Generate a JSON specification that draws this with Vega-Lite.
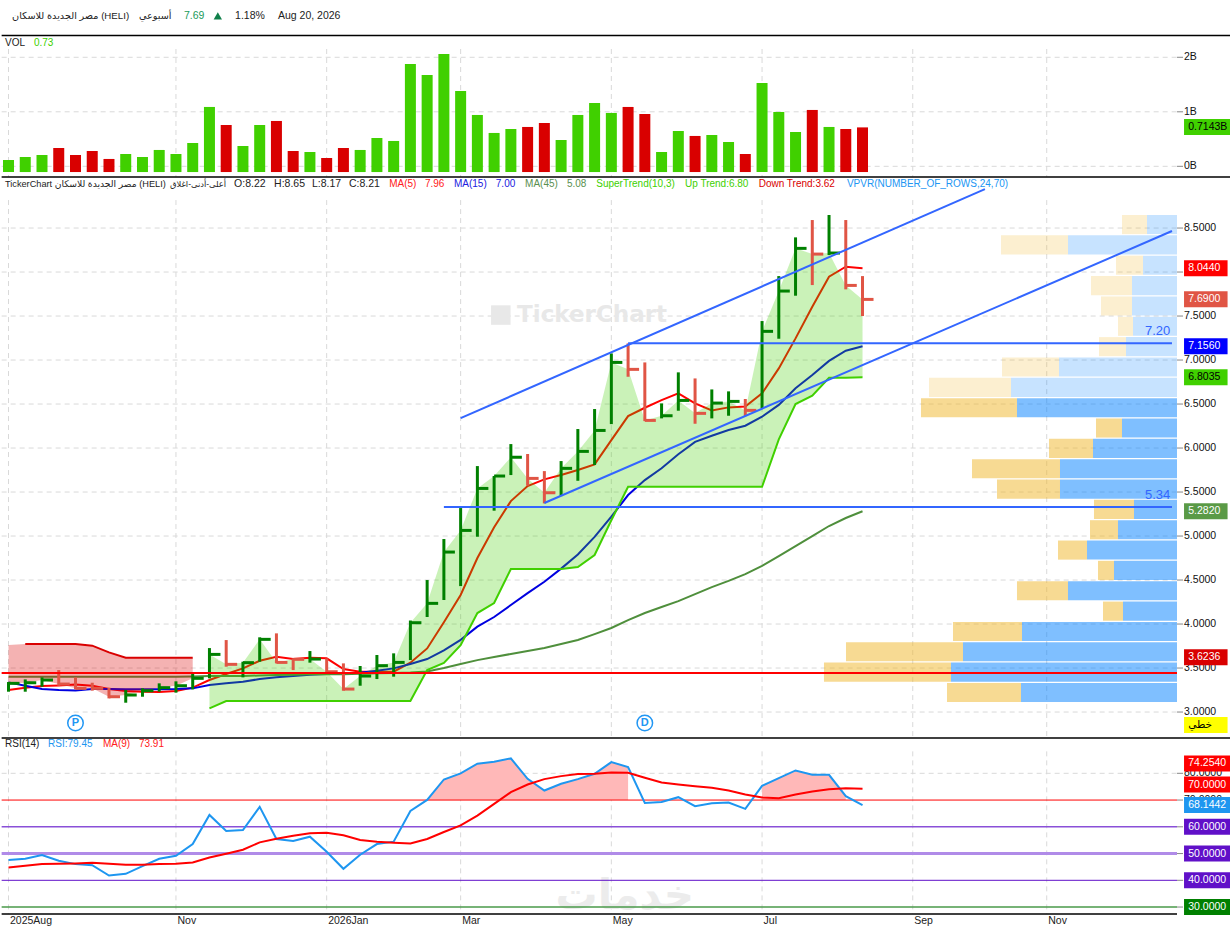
{
  "$schema": "https://vega.github.io/schema/vega-lite/v6.json",
  "padding": 0,
  "background": "white",
  "spacing": 0,
  "bounds": "flush",
  "resolve": {"scale": {"color": "independent"}},
  "config": {
    "view": {"stroke": null},
    "font": "Liberation Sans, DejaVu Sans",
    "axis": {"labelColor": "#111111"}
  },
  "datasets": {
    "weeks": [
      {"i":0,"h":3.341,"l":3.231,"c":3.326,"vol":0.116,"dir":"up","ma5":3.25,"ma15":3.337,"ma45":3.40,"dn":3.761,"up":null,"rsi":47.55,"rsima":44.8},
      {"i":1,"h":3.371,"l":3.231,"c":3.333,"vol":0.171,"dir":"up","ma5":3.277,"ma15":3.299,"ma45":3.40,"dn":3.773,"up":null,"rsi":48.05,"rsima":45.42},
      {"i":2,"h":3.394,"l":3.288,"c":3.364,"vol":0.208,"dir":"up","ma5":3.295,"ma15":3.261,"ma45":3.40,"dn":3.773,"up":null,"rsi":49.43,"rsima":46.05},
      {"i":3,"h":3.477,"l":3.299,"c":3.318,"vol":0.336,"dir":"down","ma5":3.303,"ma15":3.25,"ma45":3.40,"dn":3.773,"up":null,"rsi":47.3,"rsima":46.17},
      {"i":4,"h":3.394,"l":3.258,"c":3.269,"vol":0.208,"dir":"down","ma5":3.314,"ma15":3.246,"ma45":3.40,"dn":3.773,"up":null,"rsi":46.05,"rsima":46.3},
      {"i":5,"h":3.333,"l":3.243,"c":3.269,"vol":0.281,"dir":"down","ma5":3.299,"ma15":3.261,"ma45":3.40,"dn":3.754,"up":null,"rsi":45.67,"rsima":46.55},
      {"i":6,"h":3.277,"l":3.155,"c":3.174,"vol":0.135,"dir":"down","ma5":3.261,"ma15":3.261,"ma45":3.40,"dn":3.678,"up":null,"rsi":41.8,"rsima":46.17},
      {"i":7,"h":3.25,"l":3.106,"c":3.193,"vol":0.226,"dir":"up","ma5":3.239,"ma15":3.258,"ma45":3.40,"dn":3.617,"up":null,"rsi":42.42,"rsima":45.8},
      {"i":8,"h":3.269,"l":3.174,"c":3.242,"vol":0.171,"dir":"up","ma5":3.231,"ma15":3.258,"ma45":3.40,"dn":3.617,"up":null,"rsi":45.3,"rsima":45.8},
      {"i":9,"h":3.326,"l":3.231,"c":3.277,"vol":0.3,"dir":"up","ma5":3.227,"ma15":3.258,"ma45":3.40,"dn":3.617,"up":null,"rsi":48.05,"rsima":46.05},
      {"i":10,"h":3.349,"l":3.22,"c":3.299,"vol":0.226,"dir":"up","ma5":3.239,"ma15":3.261,"ma45":3.40,"dn":3.617,"up":null,"rsi":49.18,"rsima":46.17},
      {"i":11,"h":3.451,"l":3.258,"c":3.383,"vol":0.428,"dir":"up","ma5":3.277,"ma15":3.269,"ma45":3.405,"dn":3.617,"up":null,"rsi":53.55,"rsima":46.67},
      {"i":12,"h":3.727,"l":3.383,"c":3.655,"vol":1.089,"dir":"up","ma5":3.364,"ma15":3.307,"ma45":3.41,"dn":null,"up":3.042,"rsi":64.44,"rsima":48.55},
      {"i":13,"h":3.818,"l":3.515,"c":3.542,"vol":0.758,"dir":"down","ma5":3.432,"ma15":3.326,"ma45":3.41,"dn":null,"up":3.125,"rsi":58.43,"rsima":49.93},
      {"i":14,"h":3.572,"l":3.394,"c":3.561,"vol":0.373,"dir":"up","ma5":3.496,"ma15":3.345,"ma45":3.41,"dn":null,"up":3.125,"rsi":58.81,"rsima":51.43},
      {"i":15,"h":3.849,"l":3.572,"c":3.826,"vol":0.758,"dir":"up","ma5":3.583,"ma15":3.375,"ma45":3.415,"dn":null,"up":3.125,"rsi":67.44,"rsima":54.18},
      {"i":16,"h":3.894,"l":3.553,"c":3.564,"vol":0.832,"dir":"down","ma5":3.629,"ma15":3.394,"ma45":3.42,"dn":null,"up":3.125,"rsi":55.43,"rsima":55.56},
      {"i":17,"h":3.61,"l":3.477,"c":3.599,"vol":0.281,"dir":"down","ma5":3.602,"ma15":3.409,"ma45":3.425,"dn":null,"up":3.125,"rsi":54.68,"rsima":56.68},
      {"i":18,"h":3.693,"l":3.561,"c":3.602,"vol":0.263,"dir":"up","ma5":3.617,"ma15":3.424,"ma45":3.43,"dn":null,"up":3.125,"rsi":56.31,"rsima":57.56},
      {"i":19,"h":3.61,"l":3.451,"c":3.458,"vol":0.153,"dir":"down","ma5":3.61,"ma15":3.432,"ma45":3.43,"dn":null,"up":3.125,"rsi":50.68,"rsima":57.81},
      {"i":20,"h":3.553,"l":3.242,"c":3.261,"vol":0.336,"dir":"down","ma5":3.489,"ma15":3.439,"ma45":3.43,"dn":null,"up":3.125,"rsi":44.3,"rsima":56.81},
      {"i":21,"h":3.523,"l":3.299,"c":3.409,"vol":0.3,"dir":"up","ma5":3.458,"ma15":3.447,"ma45":3.435,"dn":null,"up":3.125,"rsi":49.55,"rsima":55.06},
      {"i":22,"h":3.648,"l":3.375,"c":3.527,"vol":0.52,"dir":"up","ma5":3.458,"ma15":3.47,"ma45":3.44,"dn":null,"up":3.125,"rsi":53.55,"rsima":54.43},
      {"i":23,"h":3.667,"l":3.402,"c":3.564,"vol":0.465,"dir":"up","ma5":3.458,"ma15":3.496,"ma45":3.445,"dn":null,"up":3.125,"rsi":54.43,"rsima":54.05},
      {"i":24,"h":4.04,"l":3.591,"c":4.015,"vol":1.878,"dir":"up","ma5":3.561,"ma15":3.545,"ma45":3.45,"dn":null,"up":3.125,"rsi":65.94,"rsima":53.8},
      {"i":25,"h":4.5,"l":4.08,"c":4.235,"vol":1.676,"dir":"up","ma5":3.723,"ma15":3.602,"ma45":3.46,"dn":null,"up":3.477,"rsi":70.06,"rsima":55.43},
      {"i":26,"h":4.966,"l":4.273,"c":4.818,"vol":2.061,"dir":"up","ma5":4.02,"ma15":3.7,"ma45":3.5,"dn":null,"up":3.557,"rsi":77.69,"rsima":58.06},
      {"i":27,"h":5.318,"l":4.431,"c":5.064,"vol":1.382,"dir":"up","ma5":4.33,"ma15":3.82,"ma45":3.545,"dn":null,"up":3.76,"rsi":79.95,"rsima":60.56},
      {"i":28,"h":5.795,"l":4.992,"c":5.541,"vol":0.942,"dir":"up","ma5":4.75,"ma15":3.97,"ma45":3.59,"dn":null,"up":4.125,"rsi":83.57,"rsima":64.19},
      {"i":29,"h":5.682,"l":5.288,"c":5.682,"vol":0.612,"dir":"up","ma5":5.1,"ma15":4.08,"ma45":3.625,"dn":null,"up":4.239,"rsi":84.32,"rsima":68.56},
      {"i":30,"h":6.045,"l":5.693,"c":5.894,"vol":0.685,"dir":"up","ma5":5.397,"ma15":4.216,"ma45":3.66,"dn":null,"up":4.625,"rsi":85.57,"rsima":72.94},
      {"i":31,"h":5.932,"l":5.572,"c":5.655,"vol":0.722,"dir":"down","ma5":5.568,"ma15":4.352,"ma45":3.693,"dn":null,"up":4.625,"rsi":77.94,"rsima":75.82},
      {"i":32,"h":5.738,"l":5.371,"c":5.492,"vol":0.795,"dir":"down","ma5":5.644,"ma15":4.48,"ma45":3.727,"dn":null,"up":4.625,"rsi":73.57,"rsima":77.82},
      {"i":33,"h":5.852,"l":5.454,"c":5.769,"vol":0.483,"dir":"up","ma5":5.693,"ma15":4.63,"ma45":3.773,"dn":null,"up":4.625,"rsi":76.07,"rsima":78.95},
      {"i":34,"h":6.216,"l":5.628,"c":5.962,"vol":0.942,"dir":"up","ma5":5.75,"ma15":4.79,"ma45":3.818,"dn":null,"up":4.647,"rsi":77.82,"rsima":79.7},
      {"i":35,"h":6.443,"l":5.807,"c":6.2,"vol":1.162,"dir":"up","ma5":5.814,"ma15":4.99,"ma45":3.886,"dn":null,"up":4.784,"rsi":79.82,"rsima":79.82},
      {"i":36,"h":7.075,"l":6.272,"c":6.973,"vol":0.979,"dir":"up","ma5":6.09,"ma15":5.22,"ma45":3.955,"dn":null,"up":5.18,"rsi":84.2,"rsima":80.32},
      {"i":37,"h":7.189,"l":6.81,"c":6.894,"vol":1.089,"dir":"down","ma5":6.363,"ma15":5.466,"ma45":4.045,"dn":null,"up":5.56,"rsi":82.32,"rsima":80.2},
      {"i":38,"h":6.973,"l":6.306,"c":6.314,"vol":0.96,"dir":"down","ma5":6.458,"ma15":5.636,"ma45":4.125,"dn":null,"up":5.56,"rsi":68.94,"rsima":78.32},
      {"i":39,"h":6.507,"l":6.337,"c":6.367,"vol":0.263,"dir":"up","ma5":6.545,"ma15":5.77,"ma45":4.193,"dn":null,"up":5.56,"rsi":69.31,"rsima":76.57},
      {"i":40,"h":6.86,"l":6.424,"c":6.541,"vol":0.648,"dir":"up","ma5":6.621,"ma15":5.93,"ma45":4.261,"dn":null,"up":5.56,"rsi":71.07,"rsima":75.82},
      {"i":41,"h":6.791,"l":6.276,"c":6.394,"vol":0.557,"dir":"down","ma5":6.507,"ma15":6.07,"ma45":4.34,"dn":null,"up":5.56,"rsi":67.69,"rsima":75.19},
      {"i":42,"h":6.666,"l":6.337,"c":6.511,"vol":0.575,"dir":"up","ma5":6.428,"ma15":6.14,"ma45":4.42,"dn":null,"up":5.56,"rsi":68.81,"rsima":74.57},
      {"i":43,"h":6.644,"l":6.367,"c":6.53,"vol":0.446,"dir":"up","ma5":6.462,"ma15":6.205,"ma45":4.49,"dn":null,"up":5.56,"rsi":69.06,"rsima":73.57},
      {"i":44,"h":6.557,"l":6.363,"c":6.428,"vol":0.226,"dir":"down","ma5":6.473,"ma15":6.254,"ma45":4.568,"dn":null,"up":5.56,"rsi":66.69,"rsima":72.07},
      {"i":45,"h":7.443,"l":6.451,"c":7.326,"vol":1.529,"dir":"up","ma5":6.621,"ma15":6.356,"ma45":4.66,"dn":null,"up":5.56,"rsi":75.32,"rsima":70.94},
      {"i":46,"h":7.954,"l":7.242,"c":7.784,"vol":0.997,"dir":"up","ma5":6.905,"ma15":6.49,"ma45":4.773,"dn":null,"up":6.098,"rsi":78.2,"rsima":70.69},
      {"i":47,"h":8.394,"l":7.731,"c":8.269,"vol":0.63,"dir":"up","ma5":7.246,"ma15":6.68,"ma45":4.886,"dn":null,"up":6.5,"rsi":81.07,"rsima":72.07},
      {"i":48,"h":8.591,"l":7.852,"c":8.204,"vol":1.034,"dir":"down","ma5":7.606,"ma15":6.83,"ma45":5.0,"dn":null,"up":6.595,"rsi":79.45,"rsima":73.19},
      {"i":49,"h":8.648,"l":8.193,"c":8.216,"vol":0.722,"dir":"up","ma5":7.947,"ma15":6.99,"ma45":5.114,"dn":null,"up":6.799,"rsi":79.45,"rsima":74.07},
      {"i":50,"h":8.591,"l":7.803,"c":7.848,"vol":0.685,"dir":"down","ma5":8.06,"ma15":7.106,"ma45":5.205,"dn":null,"up":6.8,"rsi":71.44,"rsima":74.44},
      {"i":51,"h":7.954,"l":7.5,"c":7.689,"vol":0.714,"dir":"down","ma5":8.044,"ma15":7.156,"ma45":5.282,"dn":null,"up":6.8035,"rsi":68.14,"rsima":74.25}
    ],
    "months": [
      {"i":0,"name":"2025Aug"},{"i":10,"name":"Nov"},{"i":19,"name":"2026Jan"},{"i":27,"name":"Mar"},
      {"i":36,"name":"May"},{"i":45,"name":"Jul"},{"i":54,"name":"Sep"},{"i":62,"name":"Nov"}
    ],
    "volTicks": [{"v":0,"t":"0B"},{"v":1,"t":"1B"},{"v":2,"t":"2B"}],
    "priceTicks": [
      {"v":3,"t":"3.0000"},{"v":3.5,"t":"3.5000"},{"v":4,"t":"4.0000"},{"v":4.5,"t":"4.5000"},
      {"v":5,"t":"5.0000"},{"v":5.5,"t":"5.5000"},{"v":6,"t":"6.0000"},{"v":6.5,"t":"6.5000"},
      {"v":7,"t":"7.0000"},{"v":7.5,"t":"7.5000"},{"v":8,"t":"8.0000"},{"v":8.5,"t":"8.5000"}
    ],
    "rsiTicks": [
      {"v":30,"t":"30.0000"},{"v":40,"t":"40.0000"},{"v":50,"t":"50.0000"},
      {"v":60,"t":"60.0000"},{"v":70,"t":"70.0000"},{"v":80,"t":"80.0000"}
    ],
    "profile": [
      {"hi":8.648,"lo":8.431,"sell":0.30,"all":0.55,"area":"outer"},
      {"hi":8.417,"lo":8.2,"sell":1.09,"all":1.76,"area":"outer"},
      {"hi":8.186,"lo":7.969,"sell":0.34,"all":0.61,"area":"outer"},
      {"hi":7.954,"lo":7.737,"sell":0.45,"all":0.86,"area":"outer"},
      {"hi":7.723,"lo":7.506,"sell":0.45,"all":0.76,"area":"outer"},
      {"hi":7.492,"lo":7.275,"sell":0.44,"all":0.59,"area":"outer"},
      {"hi":7.261,"lo":7.044,"sell":0.51,"all":0.78,"area":"outer"},
      {"hi":7.03,"lo":6.813,"sell":1.18,"all":1.75,"area":"outer"},
      {"hi":6.798,"lo":6.581,"sell":1.66,"all":2.48,"area":"outer"},
      {"hi":6.567,"lo":6.35,"sell":1.60,"all":2.56,"area":"value"},
      {"hi":6.336,"lo":6.119,"sell":0.55,"all":0.81,"area":"value"},
      {"hi":6.105,"lo":5.888,"sell":0.84,"all":1.28,"area":"value"},
      {"hi":5.874,"lo":5.657,"sell":1.17,"all":2.05,"area":"value"},
      {"hi":5.642,"lo":5.425,"sell":1.17,"all":1.80,"area":"value"},
      {"hi":5.411,"lo":5.194,"sell":0.43,"all":0.83,"area":"value"},
      {"hi":5.18,"lo":4.963,"sell":0.59,"all":0.87,"area":"value"},
      {"hi":4.949,"lo":4.732,"sell":0.90,"all":1.19,"area":"value"},
      {"hi":4.718,"lo":4.501,"sell":0.63,"all":0.79,"area":"value"},
      {"hi":4.486,"lo":4.269,"sell":1.09,"all":1.60,"area":"value"},
      {"hi":4.255,"lo":4.038,"sell":0.54,"all":0.74,"area":"value"},
      {"hi":4.024,"lo":3.807,"sell":1.55,"all":2.24,"area":"value"},
      {"hi":3.793,"lo":3.576,"sell":2.14,"all":3.31,"area":"value"},
      {"hi":3.562,"lo":3.345,"sell":2.26,"all":3.53,"area":"value"},
      {"hi":3.33,"lo":3.113,"sell":1.56,"all":2.30,"area":"value"}
    ],
    "trends": [
      {"name":"upper","i":27,"v":6.34},{"name":"upper","i":58.31,"v":8.943},
      {"name":"lower","i":32,"v":5.375},{"name":"lower","i":69.48,"v":8.466},
      {"name":"s534","i":26,"v":5.33},{"name":"s534","i":69.48,"v":5.33},
      {"name":"r720","i":37,"v":7.19},{"name":"r720","i":69.48,"v":7.19}
    ],
    "priceTags": [
      {"t":"8.0440","pos":8.044,"kind":"ma5"},
      {"t":"7.6900","pos":7.69,"kind":"close"},
      {"t":"7.1560","pos":7.156,"kind":"ma15"},
      {"t":"6.8035","pos":6.8035,"kind":"st"},
      {"t":"5.2820","pos":5.282,"kind":"ma45"},
      {"t":"3.6236","pos":3.6236,"kind":"dn"},
      {"t":"خطي","pos":2.852,"kind":"mode"}
    ],
    "rsiLevels": [
      {"level":70,"kind":"l70"},{"level":60,"kind":"l60"},{"level":50,"kind":"l50"},{"level":40,"kind":"l40"},{"level":30,"kind":"l30"}
    ],
    "rsiTags": [
      {"t":"74.2540","pos":83.7,"kind":"ma"},
      {"t":"70.0000","pos":75.8,"kind":"t70"},
      {"t":"68.1442","pos":68.14,"kind":"rsi"},
      {"t":"60.0000","pos":60,"kind":"t60"},
      {"t":"50.0000","pos":50,"kind":"t50"},
      {"t":"40.0000","pos":40,"kind":"t40"},
      {"t":"30.0000","pos":30,"kind":"t30"}
    ]
  },
  "vconcat": [
    {
      "width": 1177,
      "height": 177,
      "layer": [
        {
          "data": {"name": "months"},
          "transform": [{"calculate": "2.152", "as": "top"}],
          "mark": {"type": "rule", "color": "#d9d9d9", "strokeDash": [5, 4], "strokeWidth": 1},
          "encoding": {
            "x": {"field": "i", "type": "quantitative", "axis": null, "scale": {"domain": [-0.508, 69.78], "nice": false, "zero": false, "padding": 0}},
            "y": {"field": "top", "type": "quantitative", "axis": null, "scale": {"domain": [-0.196, 3.051], "nice": false, "zero": false, "padding": 0}},
            "y2": {"datum": -0.196}
          }
        },
        {
          "data": {"name": "volTicks"},
          "mark": {"type": "rule", "color": "#d9d9d9", "strokeDash": [5, 4], "strokeWidth": 1},
          "encoding": {"x": {"datum": -0.41, "axis": null}, "x2": {"datum": 69.78}, "y": {"field": "v", "type": "quantitative", "axis": null}}
        },
        {
          "data": {"name": "volTicks"},
          "mark": {"type": "rule", "color": "#888888", "strokeWidth": 1},
          "encoding": {"x": {"datum": 69.78, "axis": null}, "x2": {"datum": 70.14}, "y": {"field": "v", "type": "quantitative", "axis": null}}
        },
        {
          "data": {"name": "volTicks"},
          "mark": {"type": "text", "align": "left", "fontSize": 10.5, "color": "#111111"},
          "encoding": {"x": {"datum": 70.2, "axis": null}, "y": {"field": "v", "type": "quantitative", "axis": null}, "text": {"field": "t"}}
        },
        {
          "data": {"name": "weeks"},
          "mark": {"type": "bar", "width": 11},
          "encoding": {
            "x": {"field": "i", "type": "quantitative", "axis": null},
            "y": {"field": "vol", "type": "quantitative", "axis": null},
            "y2": {"datum": -0.105},
            "color": {"field": "dir", "type": "nominal", "legend": null, "scale": {"domain": ["up", "down"], "range": ["#40d000", "#d90000"]}}
          }
        },
        {
          "data": {"values": [{"t": "line"}]},
          "mark": {"type": "rule", "color": "#000000", "strokeWidth": 1.5},
          "encoding": {"x": {"datum": -0.41, "axis": null}, "x2": {"datum": 72.95}, "y": {"datum": 2.4, "axis": null}}
        },
        {
          "data": {"values": [{"t": "line"}]},
          "mark": {"type": "rule", "color": "#000000", "strokeWidth": 1.5},
          "encoding": {"x": {"datum": -0.41, "axis": null}, "x2": {"datum": 72.95}, "y": {"datum": -0.196, "axis": null}}
        },
        {"data": {"values": [{"t": "مصر الجديدة للاسكان (HELI)"}]}, "mark": {"type": "text", "align": "left", "fontSize": 9.7, "color": "#222222"}, "encoding": {"x": {"datum": 0.21, "axis": null}, "y": {"datum": 2.758, "axis": null}, "text": {"field": "t"}}},
        {"data": {"values": [{"t": "أسبوعي"}]}, "mark": {"type": "text", "align": "left", "fontSize": 9.7, "color": "#222222"}, "encoding": {"x": {"datum": 7.79, "axis": null}, "y": {"datum": 2.758, "axis": null}, "text": {"field": "t"}}},
        {"data": {"values": [{"t": "7.69"}]}, "mark": {"type": "text", "align": "left", "fontSize": 10.5, "color": "#1a9a5a"}, "encoding": {"x": {"datum": 10.48, "axis": null}, "y": {"datum": 2.758, "axis": null}, "text": {"field": "t"}}},
        {"data": {"values": [{"t": "up"}]}, "mark": {"type": "point", "shape": "triangle-up", "filled": true, "opacity": 1, "size": 70, "color": "#10804a"}, "encoding": {"x": {"datum": 12.5, "axis": null}, "y": {"datum": 2.758, "axis": null}}},
        {"data": {"values": [{"t": "1.18%"}]}, "mark": {"type": "text", "align": "left", "fontSize": 10.5, "color": "#222222"}, "encoding": {"x": {"datum": 13.53, "axis": null}, "y": {"datum": 2.758, "axis": null}, "text": {"field": "t"}}},
        {"data": {"values": [{"t": "Aug 20, 2026"}]}, "mark": {"type": "text", "align": "left", "fontSize": 10.5, "color": "#222222"}, "encoding": {"x": {"datum": 16.09, "axis": null}, "y": {"datum": 2.758, "axis": null}, "text": {"field": "t"}}},
        {"data": {"values": [{"t": "VOL"}]}, "mark": {"type": "text", "align": "left", "fontSize": 10, "color": "#222222"}, "encoding": {"x": {"datum": -0.21, "axis": null}, "y": {"datum": 2.262, "axis": null}, "text": {"field": "t"}}},
        {"data": {"values": [{"t": "0.73"}]}, "mark": {"type": "text", "align": "left", "fontSize": 10, "color": "#40d000"}, "encoding": {"x": {"datum": 1.52, "axis": null}, "y": {"datum": 2.262, "axis": null}, "text": {"field": "t"}}},
        {
          "data": {"values": [{"t": "0.7143B"}]},
          "mark": {"type": "bar", "orient": "horizontal", "height": 16, "color": "#40d000"},
          "encoding": {"x": {"datum": 70.2, "axis": null}, "x2": {"datum": 72.95}, "y": {"datum": 0.721, "axis": null}}
        },
        {"data": {"values": [{"t": "0.7143B"}]}, "mark": {"type": "text", "align": "left", "fontSize": 10.5, "color": "#000000"}, "encoding": {"x": {"datum": 70.45, "axis": null}, "y": {"datum": 0.721, "axis": null}, "text": {"field": "t"}}}
      ]
    },
    {
      "width": 1177,
      "height": 561,
      "layer": [
        {
          "data": {"name": "months"},
          "transform": [{"calculate": "8.818", "as": "top"}],
          "mark": {"type": "rule", "color": "#d9d9d9", "strokeDash": [5, 4], "strokeWidth": 1},
          "encoding": {
            "x": {"field": "i", "type": "quantitative", "axis": null, "scale": {"domain": [-0.508, 69.78], "nice": false, "zero": false, "padding": 0}},
            "y": {"field": "top", "type": "quantitative", "axis": null, "scale": {"domain": [2.705, 9.08], "nice": false, "zero": false, "padding": 0}},
            "y2": {"datum": 2.705}
          }
        },
        {
          "data": {"name": "priceTicks"},
          "mark": {"type": "rule", "color": "#d9d9d9", "strokeDash": [5, 4], "strokeWidth": 1},
          "encoding": {"x": {"datum": -0.41, "axis": null}, "x2": {"datum": 69.78}, "y": {"field": "v", "type": "quantitative", "axis": null}}
        },
        {
          "data": {"name": "priceTicks"},
          "mark": {"type": "rule", "color": "#888888", "strokeWidth": 1},
          "encoding": {"x": {"datum": 69.78, "axis": null}, "x2": {"datum": 70.14}, "y": {"field": "v", "type": "quantitative", "axis": null}}
        },
        {
          "data": {"name": "priceTicks"},
          "mark": {"type": "text", "align": "left", "fontSize": 10.5, "color": "#111111"},
          "encoding": {"x": {"datum": 70.2, "axis": null}, "y": {"field": "v", "type": "quantitative", "axis": null}, "text": {"field": "t"}}
        },
        {
          "data": {"name": "profile"},
          "transform": [
            {"calculate": "69.78 - datum.sell * 100 / 16.745", "as": "xSell"},
            {"calculate": "69.78 - datum.all * 100 / 16.745", "as": "xAll"}
          ],
          "mark": {"type": "bar"},
          "encoding": {
            "x": {"field": "xSell", "type": "quantitative", "axis": null},
            "x2": {"field": "xAll"},
            "y": {"field": "hi", "type": "quantitative", "axis": null},
            "y2": {"field": "lo"},
            "fill": {"value": "#f0b528"},
            "opacity": {"field": "area", "type": "nominal", "legend": null, "scale": {"domain": ["outer", "value"], "range": [0.22, 0.5]}}
          }
        },
        {
          "data": {"name": "profile"},
          "transform": [
            {"calculate": "69.78 - datum.sell * 100 / 16.745", "as": "xSell"}
          ],
          "mark": {"type": "bar"},
          "encoding": {
            "x": {"field": "xSell", "type": "quantitative", "axis": null},
            "x2": {"datum": 69.78},
            "y": {"field": "hi", "type": "quantitative", "axis": null},
            "y2": {"field": "lo"},
            "fill": {"value": "#0080ff"},
            "opacity": {"field": "area", "type": "nominal", "legend": null, "scale": {"domain": ["outer", "value"], "range": [0.22, 0.5]}}
          }
        },
        {"data": {"values": [{"t": "logo"}]}, "mark": {"type": "point", "shape": "square", "filled": true, "opacity": 1, "size": 380, "color": "#e8e8e8"}, "encoding": {"x": {"datum": 29.4, "axis": null}, "y": {"datum": 7.511, "axis": null}}},
        {"data": {"values": [{"t": "TickerChart"}]}, "mark": {"type": "text", "align": "left", "font": "DejaVu Sans", "fontWeight": "bold", "fontSize": 23, "color": "#e8e8e8"}, "encoding": {"x": {"datum": 30.37, "axis": null}, "y": {"datum": 7.511, "axis": null}, "text": {"field": "t"}}},
        {"data": {"name": "weeks"}, "mark": {"type": "line", "color": "#ff0000", "strokeWidth": 2}, "encoding": {"x": {"field": "i", "type": "quantitative", "axis": null}, "y": {"field": "ma5", "type": "quantitative", "axis": null}}},
        {"data": {"name": "weeks"}, "mark": {"type": "line", "color": "#0000e0", "strokeWidth": 2}, "encoding": {"x": {"field": "i", "type": "quantitative", "axis": null}, "y": {"field": "ma15", "type": "quantitative", "axis": null}}},
        {"data": {"name": "weeks"}, "mark": {"type": "line", "color": "#4f8f3c", "strokeWidth": 2}, "encoding": {"x": {"field": "i", "type": "quantitative", "axis": null}, "y": {"field": "ma45", "type": "quantitative", "axis": null}}},
        {"data": {"name": "weeks"}, "transform": [{"filter": "datum.dn != null"}], "mark": {"type": "area", "color": "#d90000", "opacity": 0.3}, "encoding": {"x": {"field": "i", "type": "quantitative", "axis": null}, "y": {"field": "dn", "type": "quantitative", "axis": null}, "y2": {"field": "c"}}},
        {"data": {"name": "weeks"}, "transform": [{"filter": "datum.up != null"}], "mark": {"type": "area", "color": "#40d000", "opacity": 0.28}, "encoding": {"x": {"field": "i", "type": "quantitative", "axis": null}, "y": {"field": "c", "type": "quantitative", "axis": null}, "y2": {"field": "up"}}},
        {"data": {"name": "weeks"}, "transform": [{"filter": "datum.dn != null && datum.i > 0"}], "mark": {"type": "line", "color": "#d90000", "strokeWidth": 2}, "encoding": {"x": {"field": "i", "type": "quantitative", "axis": null}, "y": {"field": "dn", "type": "quantitative", "axis": null}}},
        {"data": {"name": "weeks"}, "transform": [{"filter": "datum.up != null"}], "mark": {"type": "line", "color": "#40d000", "strokeWidth": 2}, "encoding": {"x": {"field": "i", "type": "quantitative", "axis": null}, "y": {"field": "up", "type": "quantitative", "axis": null}}},
        {
          "data": {"name": "weeks"},
          "mark": {"type": "rule", "strokeWidth": 3},
          "encoding": {
            "x": {"field": "i", "type": "quantitative", "axis": null},
            "y": {"field": "h", "type": "quantitative", "axis": null},
            "y2": {"field": "l"},
            "color": {"field": "dir", "type": "nominal", "legend": null, "scale": {"domain": ["up", "down", "ma5", "close", "ma15", "st", "ma45", "dn", "mode"], "range": ["#008000", "#e05545", "#ff0000", "#e05545", "#0000ff", "#40d000", "#5a9a46", "#d90000", "#ffff00"]}}
          }
        },
        {
          "data": {"name": "weeks"},
          "mark": {"type": "tick", "orient": "horizontal", "size": 11, "thickness": 3, "xOffset": 5.5, "opacity": 1},
          "encoding": {
            "x": {"field": "i", "type": "quantitative", "axis": null},
            "y": {"field": "c", "type": "quantitative", "axis": null},
            "color": {"field": "dir", "type": "nominal", "legend": null}
          }
        },
        {
          "data": {"name": "trends"},
          "mark": {"type": "line", "color": "#3366ff", "strokeWidth": 2},
          "encoding": {
            "x": {"field": "i", "type": "quantitative", "axis": null},
            "y": {"field": "v", "type": "quantitative", "axis": null},
            "detail": {"field": "name"}
          }
        },
        {"data": {"values": [{"t": "7.20"}]}, "mark": {"type": "text", "align": "left", "fontSize": 13, "color": "#3366ff"}, "encoding": {"x": {"datum": 67.87, "axis": null}, "y": {"datum": 7.33, "axis": null}, "text": {"field": "t"}}},
        {"data": {"values": [{"t": "5.34"}]}, "mark": {"type": "text", "align": "left", "fontSize": 13, "color": "#3366ff"}, "encoding": {"x": {"datum": 67.87, "axis": null}, "y": {"datum": 5.466, "axis": null}, "text": {"field": "t"}}},
        {"data": {"values": [{"t": "support"}]}, "mark": {"type": "rule", "color": "#ff0000", "strokeWidth": 2}, "encoding": {"x": {"datum": -0.41, "axis": null}, "x2": {"datum": 69.78}, "y": {"datum": 3.443, "axis": null}}},
        {"data": {"values": [{"t": "line"}]}, "mark": {"type": "rule", "color": "#000000", "strokeWidth": 1.5}, "encoding": {"x": {"datum": -0.41, "axis": null}, "x2": {"datum": 72.95}, "y": {"datum": 2.705, "axis": null}}},
        {
          "data": {"values": [{"i": 4, "t": "P"}, {"i": 38, "t": "D"}]},
          "mark": {"type": "point", "shape": "circle", "filled": true, "fill": "white", "stroke": "#2196f3", "strokeWidth": 1.5, "opacity": 1, "size": 240},
          "encoding": {"x": {"field": "i", "type": "quantitative", "axis": null}, "y": {"datum": 2.875, "axis": null}}
        },
        {
          "data": {"values": [{"i": 4, "t": "P"}, {"i": 38, "t": "D"}]},
          "mark": {"type": "text", "fontSize": 11, "fontWeight": "bold", "color": "#2196f3"},
          "encoding": {"x": {"field": "i", "type": "quantitative", "axis": null}, "y": {"datum": 2.875, "axis": null}, "text": {"field": "t"}}
        },
        {"data": {"values": [{"t": "TickerChart مصر الجديدة للاسكان (HELI)"}]}, "mark": {"type": "text", "align": "left", "fontSize": 9.2, "color": "#222222"}, "encoding": {"x": {"datum": -0.21, "axis": null}, "y": {"datum": 9.0, "axis": null}, "text": {"field": "t"}}},
        {"data": {"values": [{"t": "أعلى-أدنى-اغلاق"}]}, "mark": {"type": "text", "align": "left", "fontSize": 8.4, "color": "#222222"}, "encoding": {"x": {"datum": 9.64, "axis": null}, "y": {"datum": 9.0, "axis": null}, "text": {"field": "t"}}},
        {"data": {"values": [{"t": "O:8.22"}]}, "mark": {"type": "text", "align": "left", "fontSize": 10.5, "color": "#222222"}, "encoding": {"x": {"datum": 13.47, "axis": null}, "y": {"datum": 9.0, "axis": null}, "text": {"field": "t"}}},
        {"data": {"values": [{"t": "H:8.65"}]}, "mark": {"type": "text", "align": "left", "fontSize": 10.5, "color": "#222222"}, "encoding": {"x": {"datum": 15.86, "axis": null}, "y": {"datum": 9.0, "axis": null}, "text": {"field": "t"}}},
        {"data": {"values": [{"t": "L:8.17"}]}, "mark": {"type": "text", "align": "left", "fontSize": 10.5, "color": "#222222"}, "encoding": {"x": {"datum": 18.12, "axis": null}, "y": {"datum": 9.0, "axis": null}, "text": {"field": "t"}}},
        {"data": {"values": [{"t": "C:8.21"}]}, "mark": {"type": "text", "align": "left", "fontSize": 10.5, "color": "#222222"}, "encoding": {"x": {"datum": 20.33, "axis": null}, "y": {"datum": 9.0, "axis": null}, "text": {"field": "t"}}},
        {"data": {"values": [{"t": "MA(5)"}]}, "mark": {"type": "text", "align": "left", "fontSize": 10, "color": "#ff2020"}, "encoding": {"x": {"datum": 22.73, "axis": null}, "y": {"datum": 9.0, "axis": null}, "text": {"field": "t"}}},
        {"data": {"values": [{"t": "7.96"}]}, "mark": {"type": "text", "align": "left", "fontSize": 10, "color": "#ff2020"}, "encoding": {"x": {"datum": 24.87, "axis": null}, "y": {"datum": 9.0, "axis": null}, "text": {"field": "t"}}},
        {"data": {"values": [{"t": "MA(15)"}]}, "mark": {"type": "text", "align": "left", "fontSize": 10, "color": "#2020e0"}, "encoding": {"x": {"datum": 26.6, "axis": null}, "y": {"datum": 9.0, "axis": null}, "text": {"field": "t"}}},
        {"data": {"values": [{"t": "7.00"}]}, "mark": {"type": "text", "align": "left", "fontSize": 10, "color": "#2020e0"}, "encoding": {"x": {"datum": 29.1, "axis": null}, "y": {"datum": 9.0, "axis": null}, "text": {"field": "t"}}},
        {"data": {"values": [{"t": "MA(45)"}]}, "mark": {"type": "text", "align": "left", "fontSize": 10, "color": "#5a8f50"}, "encoding": {"x": {"datum": 30.85, "axis": null}, "y": {"datum": 9.0, "axis": null}, "text": {"field": "t"}}},
        {"data": {"values": [{"t": "5.08"}]}, "mark": {"type": "text", "align": "left", "fontSize": 10, "color": "#5a8f50"}, "encoding": {"x": {"datum": 33.35, "axis": null}, "y": {"datum": 9.0, "axis": null}, "text": {"field": "t"}}},
        {"data": {"values": [{"t": "SuperTrend(10,3)"}]}, "mark": {"type": "text", "align": "left", "fontSize": 10, "color": "#40d000"}, "encoding": {"x": {"datum": 35.1, "axis": null}, "y": {"datum": 9.0, "axis": null}, "text": {"field": "t"}}},
        {"data": {"values": [{"t": "Up Trend:6.80"}]}, "mark": {"type": "text", "align": "left", "fontSize": 10, "color": "#40d000"}, "encoding": {"x": {"datum": 40.4, "axis": null}, "y": {"datum": 9.0, "axis": null}, "text": {"field": "t"}}},
        {"data": {"values": [{"t": "Down Trend:3.62"}]}, "mark": {"type": "text", "align": "left", "fontSize": 10, "color": "#d90000"}, "encoding": {"x": {"datum": 44.8, "axis": null}, "y": {"datum": 9.0, "axis": null}, "text": {"field": "t"}}},
        {"data": {"values": [{"t": "VPVR(NUMBER_OF_ROWS,24,70)"}]}, "mark": {"type": "text", "align": "left", "fontSize": 10, "color": "#2196f3"}, "encoding": {"x": {"datum": 50.07, "axis": null}, "y": {"datum": 9.0, "axis": null}, "text": {"field": "t"}}},
        {
          "data": {"name": "priceTags"},
          "mark": {"type": "bar", "orient": "horizontal", "height": 16},
          "encoding": {
            "x": {"datum": 70.2, "axis": null},
            "x2": {"datum": 72.8},
            "y": {"field": "pos", "type": "quantitative", "axis": null},
            "color": {"field": "kind", "type": "nominal", "legend": null}
          }
        },
        {
          "data": {"name": "priceTags"},
          "transform": [{"filter": "datum.kind != 'st' && datum.kind != 'mode'"}],
          "mark": {"type": "text", "align": "left", "fontSize": 10.5, "color": "#ffffff"},
          "encoding": {"x": {"datum": 70.45, "axis": null}, "y": {"field": "pos", "type": "quantitative", "axis": null}, "text": {"field": "t"}}
        },
        {
          "data": {"name": "priceTags"},
          "transform": [{"filter": "datum.kind == 'st' || datum.kind == 'mode'"}],
          "mark": {"type": "text", "align": "left", "fontSize": 10.5, "color": "#000000"},
          "encoding": {"x": {"datum": 70.45, "axis": null}, "y": {"field": "pos", "type": "quantitative", "axis": null}, "text": {"field": "t"}}
        }
      ]
    },
    {
      "width": 1177,
      "height": 176,
      "layer": [
        {
          "data": {"name": "months"},
          "transform": [{"calculate": "88.2", "as": "top"}],
          "mark": {"type": "rule", "color": "#d9d9d9", "strokeDash": [5, 4], "strokeWidth": 1},
          "encoding": {
            "x": {"field": "i", "type": "quantitative", "axis": null, "scale": {"domain": [-0.508, 69.78], "nice": false, "zero": false, "padding": 0}},
            "y": {"field": "top", "type": "quantitative", "axis": null, "scale": {"domain": [27.4, 93.2], "nice": false, "zero": false, "padding": 0}},
            "y2": {"datum": 27.4}
          }
        },
        {
          "data": {"name": "months"},
          "mark": {"type": "text", "align": "left", "dx": 1.5, "fontSize": 10.5, "color": "#222222"},
          "encoding": {"x": {"field": "i", "type": "quantitative", "axis": null}, "y": {"datum": 24.8, "axis": null}, "text": {"field": "name"}}
        },
        {
          "data": {"name": "rsiTicks"},
          "mark": {"type": "rule", "color": "#888888", "strokeWidth": 1},
          "encoding": {"x": {"datum": 69.78, "axis": null}, "x2": {"datum": 70.14}, "y": {"field": "v", "type": "quantitative", "axis": null}}
        },
        {
          "data": {"name": "rsiTicks"},
          "mark": {"type": "text", "align": "left", "fontSize": 10.5, "color": "#111111"},
          "encoding": {"x": {"datum": 70.2, "axis": null}, "y": {"field": "v", "type": "quantitative", "axis": null}, "text": {"field": "t"}}
        },
        {
          "data": {"values": [{"t": "grid80"}]},
          "mark": {"type": "rule", "color": "#d9d9d9", "strokeDash": [5, 4], "strokeWidth": 1},
          "encoding": {"x": {"datum": -0.41, "axis": null}, "x2": {"datum": 69.78}, "y": {"datum": 80, "axis": null}}
        },
        {"data": {"values": [{"t": "خدمات"}]}, "mark": {"type": "text", "align": "center", "font": "DejaVu Sans", "fontWeight": "bold", "fontSize": 42, "color": "#ececec"}, "encoding": {"x": {"datum": 36.8, "axis": null}, "y": {"datum": 34, "axis": null}, "text": {"field": "t"}}},
        {"data": {"name": "weeks"}, "transform": [{"filter": "datum.i >= 25 && datum.i <= 37"}], "mark": {"type": "area", "color": "#ffb8b8", "opacity": 1}, "encoding": {"x": {"field": "i", "type": "quantitative", "axis": null}, "y": {"field": "rsi", "type": "quantitative", "axis": null}, "y2": {"datum": 70}}},
        {"data": {"name": "weeks"}, "transform": [{"filter": "datum.i >= 45 && datum.i <= 50"}], "mark": {"type": "area", "color": "#ffb8b8", "opacity": 1}, "encoding": {"x": {"field": "i", "type": "quantitative", "axis": null}, "y": {"field": "rsi", "type": "quantitative", "axis": null}, "y2": {"datum": 70}}},
        {
          "data": {"name": "rsiLevels"},
          "transform": [{"filter": "datum.level == 70 || datum.level == 40"}],
          "mark": {"type": "rule", "strokeWidth": 1},
          "encoding": {
            "x": {"datum": -0.41, "axis": null},
            "x2": {"datum": 69.78},
            "y": {"field": "level", "type": "quantitative", "axis": null},
            "color": {"field": "kind", "type": "nominal", "legend": null, "scale": {"domain": ["l70", "l60", "l50", "l40", "l30", "ma", "t70", "rsi", "t60", "t50", "t40", "t30"], "range": ["#ff0000", "#8a50d8", "#b08be8", "#6010c8", "#4a9a4a", "#ff0000", "#ff0000", "#1e96f0", "#6010c8", "#6010c8", "#6010c8", "#008000"]}}
          }
        },
        {
          "data": {"name": "rsiLevels"},
          "transform": [{"filter": "datum.level == 60 || datum.level == 30"}],
          "mark": {"type": "rule", "strokeWidth": 1.5},
          "encoding": {
            "x": {"datum": -0.41, "axis": null},
            "x2": {"datum": 69.78},
            "y": {"field": "level", "type": "quantitative", "axis": null},
            "color": {"field": "kind", "type": "nominal", "legend": null}
          }
        },
        {
          "data": {"name": "rsiLevels"},
          "transform": [{"filter": "datum.level == 50"}],
          "mark": {"type": "rule", "strokeWidth": 3},
          "encoding": {
            "x": {"datum": -0.41, "axis": null},
            "x2": {"datum": 69.78},
            "y": {"field": "level", "type": "quantitative", "axis": null},
            "color": {"field": "kind", "type": "nominal", "legend": null}
          }
        },
        {"data": {"name": "weeks"}, "mark": {"type": "line", "color": "#1e96f0", "strokeWidth": 2}, "encoding": {"x": {"field": "i", "type": "quantitative", "axis": null}, "y": {"field": "rsi", "type": "quantitative", "axis": null}}},
        {"data": {"name": "weeks"}, "mark": {"type": "line", "color": "#ff0000", "strokeWidth": 2}, "encoding": {"x": {"field": "i", "type": "quantitative", "axis": null}, "y": {"field": "rsima", "type": "quantitative", "axis": null}}},
        {"data": {"values": [{"t": "line"}]}, "mark": {"type": "rule", "color": "#000000", "strokeWidth": 1.5}, "encoding": {"x": {"datum": -0.41, "axis": null}, "x2": {"datum": 69.78}, "y": {"datum": 27.4, "axis": null}}},
        {"data": {"values": [{"t": "RSI(14)"}]}, "mark": {"type": "text", "align": "left", "fontSize": 10, "color": "#222222"}, "encoding": {"x": {"datum": -0.21, "axis": null}, "y": {"datum": 90.8, "axis": null}, "text": {"field": "t"}}},
        {"data": {"values": [{"t": "RSI:79.45"}]}, "mark": {"type": "text", "align": "left", "fontSize": 10, "color": "#1e96f0"}, "encoding": {"x": {"datum": 2.36, "axis": null}, "y": {"datum": 90.8, "axis": null}, "text": {"field": "t"}}},
        {"data": {"values": [{"t": "MA(9)"}]}, "mark": {"type": "text", "align": "left", "fontSize": 10, "color": "#ff2020"}, "encoding": {"x": {"datum": 5.64, "axis": null}, "y": {"datum": 90.8, "axis": null}, "text": {"field": "t"}}},
        {"data": {"values": [{"t": "73.91"}]}, "mark": {"type": "text", "align": "left", "fontSize": 10, "color": "#ff2020"}, "encoding": {"x": {"datum": 7.79, "axis": null}, "y": {"datum": 90.8, "axis": null}, "text": {"field": "t"}}},
        {
          "data": {"name": "rsiTags"},
          "mark": {"type": "bar", "orient": "horizontal", "height": 16},
          "encoding": {
            "x": {"datum": 70.2, "axis": null},
            "x2": {"datum": 72.95},
            "y": {"field": "pos", "type": "quantitative", "axis": null},
            "color": {"field": "kind", "type": "nominal", "legend": null}
          }
        },
        {
          "data": {"name": "rsiTags"},
          "mark": {"type": "text", "align": "left", "fontSize": 10.5, "color": "#ffffff"},
          "encoding": {
            "x": {"datum": 70.45, "axis": null},
            "y": {"field": "pos", "type": "quantitative", "axis": null},
            "text": {"field": "t"}
          }
        }
      ]
    }
  ]
}
